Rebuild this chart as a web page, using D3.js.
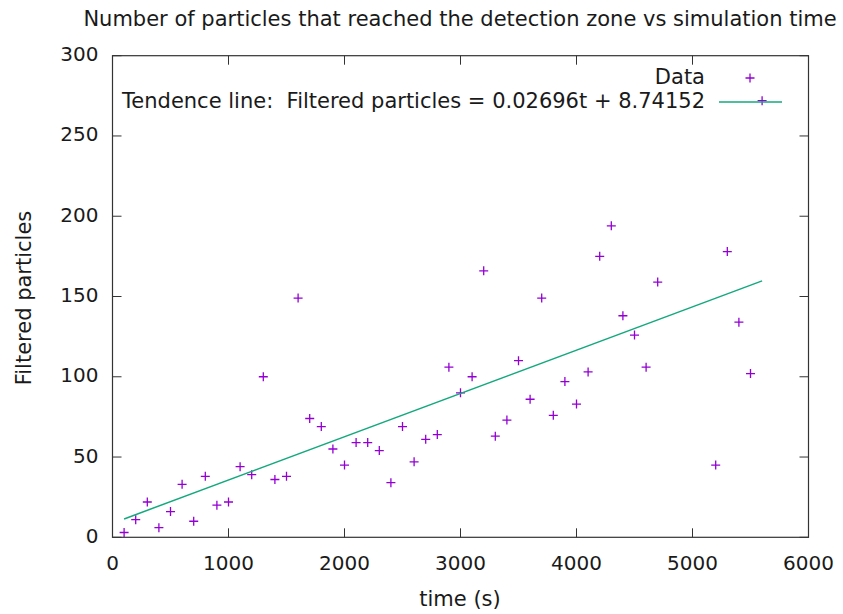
<!DOCTYPE html>
<html>
<head>
<meta charset="utf-8">
<script src="https://cdn.jsdelivr.net/npm/d3@7"></script>
<style>
  html, body { margin: 0; padding: 0; background: #fff; }
  text { font-family: "DejaVu Sans", sans-serif; fill: #1a1a1a; white-space: pre; }
</style>
</head>
<body>
<svg id="chart" width="843" height="614"></svg>
<script>
const times = [100, 200, 300, 400, 500, 600, 700, 800, 900, 1000,
  1100, 1200, 1300, 1400, 1500, 1600, 1700, 1800, 1900, 2000,
  2100, 2200, 2300, 2400, 2500, 2600, 2700, 2800, 2900, 3000,
  3100, 3200, 3300, 3400, 3500, 3600, 3700, 3800, 3900, 4000,
  4100, 4200, 4300, 4400, 4500, 4600, 4700, 5200, 5300, 5400, 5500, 5600];
const particles = [3, 11, 22, 6, 16, 33, 10, 38, 20, 22,
  44, 39, 100, 36, 38, 149, 74, 69, 55, 45,
  59, 59, 54, 34, 69, 47, 61, 64, 106, 90,
  100, 166, 63, 73, 110, 86, 149, 76, 97, 83,
  103, 175, 194, 138, 126, 106, 159, 45, 178, 134, 102, 272];
const fitSlope = 0.02696;
const fitIntercept = 8.74152;
const xTicks = [0, 1000, 2000, 3000, 4000, 5000, 6000];
const yTicks = [0, 50, 100, 150, 200, 250, 300];
const titleText = "Number of particles that reached the detection zone vs simulation time";
const xLabel = "time (s)";
const yLabel = "Filtered particles";
const legendData = "Data";
const legendLine = "Tendence line:  Filtered particles = 0.02696t + 8.74152";

const svg = d3.select("#chart");
const L = 112.5, R = 808.5, T = 55.7, B = 537.3;
const x = d3.scaleLinear().domain([0, 6000]).range([L, R]);
const y = d3.scaleLinear().domain([0, 300]).range([B, T]);
const fs = 21, tfs = 20;
const axisColor = "#333";
const tickLen = 9;
const lineColor = "#14a97c";

// ticks (inward, mirrored)
const g = svg.append("g");
xTicks.forEach(v => {
  g.append("line").attr("x1", x(v)).attr("x2", x(v)).attr("y1", B).attr("y2", B - tickLen)
    .attr("stroke", axisColor).attr("stroke-width", 1);
  g.append("line").attr("x1", x(v)).attr("x2", x(v)).attr("y1", T).attr("y2", T + tickLen)
    .attr("stroke", axisColor).attr("stroke-width", 1);
  g.append("text").attr("x", x(v)).attr("y", B + 27).attr("text-anchor", "middle")
    .attr("dominant-baseline", "middle").style("font-size", tfs + "px").text(v);
});
yTicks.forEach(v => {
  g.append("line").attr("x1", L).attr("x2", L + tickLen).attr("y1", y(v)).attr("y2", y(v))
    .attr("stroke", axisColor).attr("stroke-width", 1);
  g.append("line").attr("x1", R).attr("x2", R - tickLen).attr("y1", y(v)).attr("y2", y(v))
    .attr("stroke", axisColor).attr("stroke-width", 1);
  g.append("text").attr("x", L - 14).attr("y", y(v)).attr("text-anchor", "end")
    .attr("dominant-baseline", "middle").style("font-size", tfs + "px").text(v);
});

// frame
svg.append("rect").attr("x", L).attr("y", T).attr("width", R - L).attr("height", B - T)
  .attr("fill", "none").attr("stroke", axisColor).attr("stroke-width", 1.2);

// data points (plus markers)
const plus = (sel, cx, cy) => {
  sel.append("path")
    .attr("d", `M${cx - 4.5},${cy}H${cx + 4.5}M${cx},${cy - 4.5}V${cy + 4.5}`)
    .attr("stroke", "#9400d3").attr("stroke-width", 1.3).attr("fill", "none");
};
const pts = svg.append("g");
times.forEach((t, i) => plus(pts, x(t), y(particles[i])));

// fit line
const t0 = d3.min(times), t1 = d3.max(times);
svg.append("line")
  .attr("x1", x(t0)).attr("y1", y(fitSlope * t0 + fitIntercept))
  .attr("x2", x(t1)).attr("y2", y(fitSlope * t1 + fitIntercept))
  .attr("stroke", lineColor).attr("stroke-width", 1.5);

// legend
const legX = 705;
svg.append("text").attr("x", legX).attr("y", 78).attr("text-anchor", "end")
  .attr("dominant-baseline", "middle").style("font-size", fs + "px").text(legendData);
plus(svg, 750, 78);
svg.append("text").attr("x", legX).attr("y", 102).attr("text-anchor", "end")
  .attr("dominant-baseline", "middle").style("font-size", fs + "px").text(legendLine);
svg.append("line").attr("x1", 719).attr("x2", 782).attr("y1", 102).attr("y2", 102)
  .attr("stroke", lineColor).attr("stroke-width", 1.5);

// title & labels
svg.append("text").attr("x", 460).attr("y", 20).attr("text-anchor", "middle")
  .attr("dominant-baseline", "middle").style("font-size", fs + "px").text(titleText);
svg.append("text").attr("x", 460).attr("y", 600).attr("text-anchor", "middle")
  .attr("dominant-baseline", "middle").style("font-size", fs + "px").text(xLabel);
svg.append("text").attr("transform", "translate(25,298) rotate(-90)").attr("text-anchor", "middle")
  .attr("dominant-baseline", "middle").style("font-size", fs + "px").text(yLabel);
</script>
</body>
</html>
